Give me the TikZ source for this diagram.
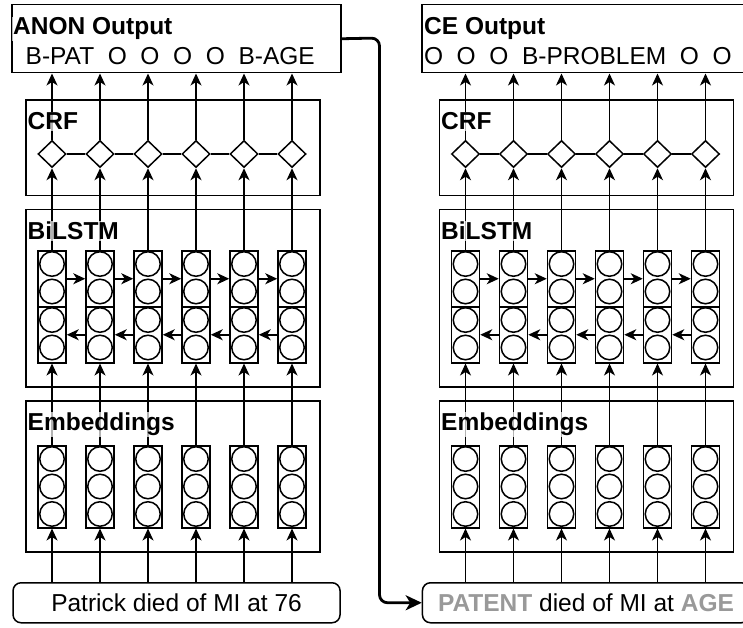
\documentclass[tikz,border=0pt]{standalone}
\usepackage{fontspec}
\setmainfont{Liberation Sans}
\usetikzlibrary{shapes.geometric,arrows.meta}
\definecolor{masked}{HTML}{999999}

\begin{document}
\begin{tikzpicture}[
  x=1pt,y=-1pt,
  >={Stealth[length=12pt,width=11pt,inset=3.5pt]},
  every node/.style={font=\fontsize{24.5}{28}\selectfont},
  panel/.style={draw,line width=1.5pt,anchor=north west,inner sep=0pt},
  textbox/.style={draw,line width=1.5pt,rounded corners=8pt,anchor=north west,
    minimum width=327pt,minimum height=40pt,inner sep=0pt},
  cell/.style={draw,line width=1.5pt,minimum width=28pt,inner sep=0pt,anchor=north},
  unit/.style={circle,draw,line width=1.5pt,minimum size=24.5pt,inner sep=0pt},
  gate/.style={diamond,draw,line width=1.5pt,minimum width=28pt,minimum height=27pt,inner sep=0pt},
  title/.style={anchor=base west,inner sep=1pt,font=\fontsize{24.5}{28}\selectfont\bfseries,
    fill=white,fill opacity=0.7,text opacity=1},
  flow/.style={->,line width=1.5pt},
  link/.style={->,line width=2.8pt,rounded corners=8pt,>={Stealth[length=16pt,width=15pt,inset=4.5pt]}}
]
  \useasboundingbox (0,0) rectangle (743,628);

  % output and input boxes
  \node[panel,minimum width=329pt,minimum height=68pt] (outL) at (11,4) {};
  \node[panel,minimum width=329pt,minimum height=68pt] (outR) at (421,4) {};
  \node[textbox] (inL) at (12.3,582) {Patrick died of MI at 76};
  \node[textbox] (inR) at (421.7,582)
    {\textbf{\color{masked}PATENT} died of MI at \textbf{\color{masked}AGE}};

  \foreach \s/\ox in {L/0,R/413.5}{
    \node[panel,minimum width=294pt,minimum height=95.7pt] (crf\s) at (25+\ox,99.3) {};
    \node[panel,minimum width=294pt,minimum height=177pt] (lstm\s) at (25+\ox,209) {};
    \node[panel,minimum width=294pt,minimum height=151pt] (emb\s) at (25+\ox,400) {};
    \foreach \i in {0,...,5}{
      \pgfmathsetmacro\cx{52+\ox+48*\i}
      \node[cell,minimum height=82pt] (e\s\i) at (\cx,445) {};
      \node[cell,minimum height=56pt] (fw\s\i) at (\cx,250) {};
      \node[cell,minimum height=56pt] (bw\s\i) at (\cx,306) {};
      \foreach \k in {0,1,2} \node[unit] (e\s\i-\k) at (\cx,459+27.5*\k) {};
      \foreach \k/\cy in {0/264,1/291.5,2/320,3/347.5} \node[unit] (h\s\i-\k) at (\cx,\cy) {};
      \node[gate] (g\s\i) at (\cx,154) {};

      \draw[flow] (e\s\i |- in\s.north) -- (e\s\i.south);
      \draw[flow] (e\s\i.north) -- (bw\s\i.south);
      \draw[flow] (fw\s\i.north) -- (g\s\i.south);
      \draw[flow] (g\s\i.north) -- (g\s\i |- out\s.south);
    }
    \foreach \i [count=\j from 1] in {0,...,4}{
      \draw[flow] (fw\s\i) -- (fw\s\j);
      \draw[flow] (bw\s\j) -- (bw\s\i);
      \draw[line width=1.5pt] (g\s\i) -- (g\s\j);
    }
    \node[title] (tcrf\s) at (26.5+\ox,130) {CRF};
    \node[title] (tlstm\s) at (26.5+\ox,239.3) {BiLSTM};
    \node[title] (temb\s) at (26.5+\ox,430.7) {Embeddings};
  }

  \node[title] (toutL) at (12,35) {ANON Output};
  \node[title] (toutR) at (423,35) {CE Output};
  \node[anchor=base west,inner sep=0pt] (labL) at (25.5,65)
    {B-PAT\ \ O\ \ O\ \ O\ \ O\ \ B-AGE};
  \node[anchor=base west,inner sep=0pt] (labR) at (423.8,65)
    {O\ \ O\ \ O\ \ B-PROBLEM\ \ O\ \ O};

  % anonymised text fed into the second tagger
  \coordinate (turn) at (379.5,38);
  \draw[link] (outL.east) -- (turn) |- (inR.west);
\end{tikzpicture}
\end{document}
